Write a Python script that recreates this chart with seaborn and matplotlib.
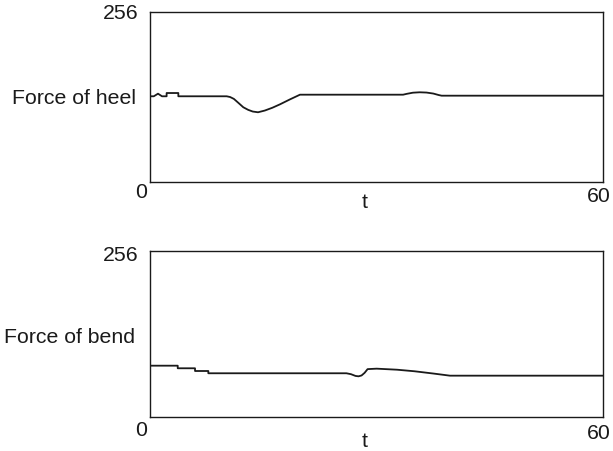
import matplotlib
matplotlib.use("Agg")
import matplotlib.pyplot as plt
import pandas as pd
import seaborn as sns

# time axis (0..60) and force values (0..256)
heel_t = [0, 0.5, 1.06, 1.59, 2.2, 2.2, 3.75, 3.75, 10.15, 10.6, 11.1, 11.7, 12.35, 13.0,
          13.6, 14.3, 15.2, 16.2, 17.2, 18.5, 19.85, 33.5, 34.0, 34.8, 35.7, 36.6, 37.5,
          38.2, 38.6, 60]
heel_v = [128.7, 128.7, 132.6, 128.7, 128.7, 133.6, 133.6, 128.7, 128.7, 127.6, 124.8,
          118.8, 112.2, 108.3, 105.8, 104.7, 107.3, 111.5, 116.6, 123.9, 131.1, 131.1,
          132.4, 134.1, 134.7, 134.3, 132.8, 130.6, 129.6, 129.6]

bend_t = [0, 3.67, 3.67, 5.96, 5.96, 7.72, 7.72, 26.0, 26.6, 27.2, 27.6, 28.0, 28.4,
          28.8, 30.0, 32.7, 35.0, 37.5, 39.7, 60]
bend_v = [79.6, 79.6, 75.6, 75.6, 71.4, 71.4, 67.9, 67.9, 66.5, 63.8, 63.2, 64.5, 68.5,
          74.3, 75.0, 73.4, 71.0, 67.5, 64.2, 64.2]

panel_labels = ["Force of heel", "Force of bend"]
y_max = 256
t_max = 60

sns.set_style("white")
plt.rcParams["font.family"] = ["Liberation Sans", "DejaVu Sans"]

fig = plt.figure(figsize=(6.13, 4.52), dpi=100)
W, H = 613, 452


def make_axes(left, top, right, bottom):
    return fig.add_axes([left / W, 1 - bottom / H, (right - left) / W, (bottom - top) / H])


ax_top = make_axes(150, 12.5, 603.3, 183)
ax_bot = make_axes(150, 252.3, 603.3, 418.3)

panels = [
    (ax_top, heel_t, heel_v, panel_labels[0], dict(top=-0.5, mid=-1, zero=-10, sixty=-13, t=-20)),
    (ax_bot, bend_t, bend_v, panel_labels[1], dict(top=-3.5, mid=-2, zero=-12.7, sixty=-15.7, t=-23)),
]

fs = 15.3
for ax, t, v, label, off in panels:
    df = pd.DataFrame({"t": t, "force": v})
    sns.lineplot(data=df, x="t", y="force", ax=ax, sort=False, estimator=None,
                 color="#1a1a1a", linewidth=1.3)
    ax.set_xlim(0, t_max)
    ax.set_ylim(0, y_max)
    ax.set_xticks([])
    ax.set_yticks([])
    ax.set_xlabel("")
    ax.set_ylabel("")
    for s in ax.spines.values():
        s.set_visible(True)
        s.set_color("#1a1a1a")
        s.set_linewidth(1.0)

    kw = dict(xycoords="axes fraction", textcoords="offset pixels", fontsize=fs, color="#1a1a1a")
    ax.annotate(str(y_max), xy=(0, 1), xytext=(-11, off["top"]), ha="right", va="center", **kw)
    ax.annotate(label, xy=(0, 0.5), xytext=(-14.5, off["mid"]), ha="right", va="center", **kw)
    ax.annotate("0", xy=(0, 0), xytext=(-3, off["zero"]), ha="right", va="center", **kw)
    ax.annotate(str(t_max), xy=(1, 0), xytext=(7, off["sixty"]), ha="right", va="center", **kw)
    ax.annotate("t", xy=(0.474, 0), xytext=(0, off["t"]), ha="center", va="center", **kw)

fig.savefig("out.png", dpi=100)
